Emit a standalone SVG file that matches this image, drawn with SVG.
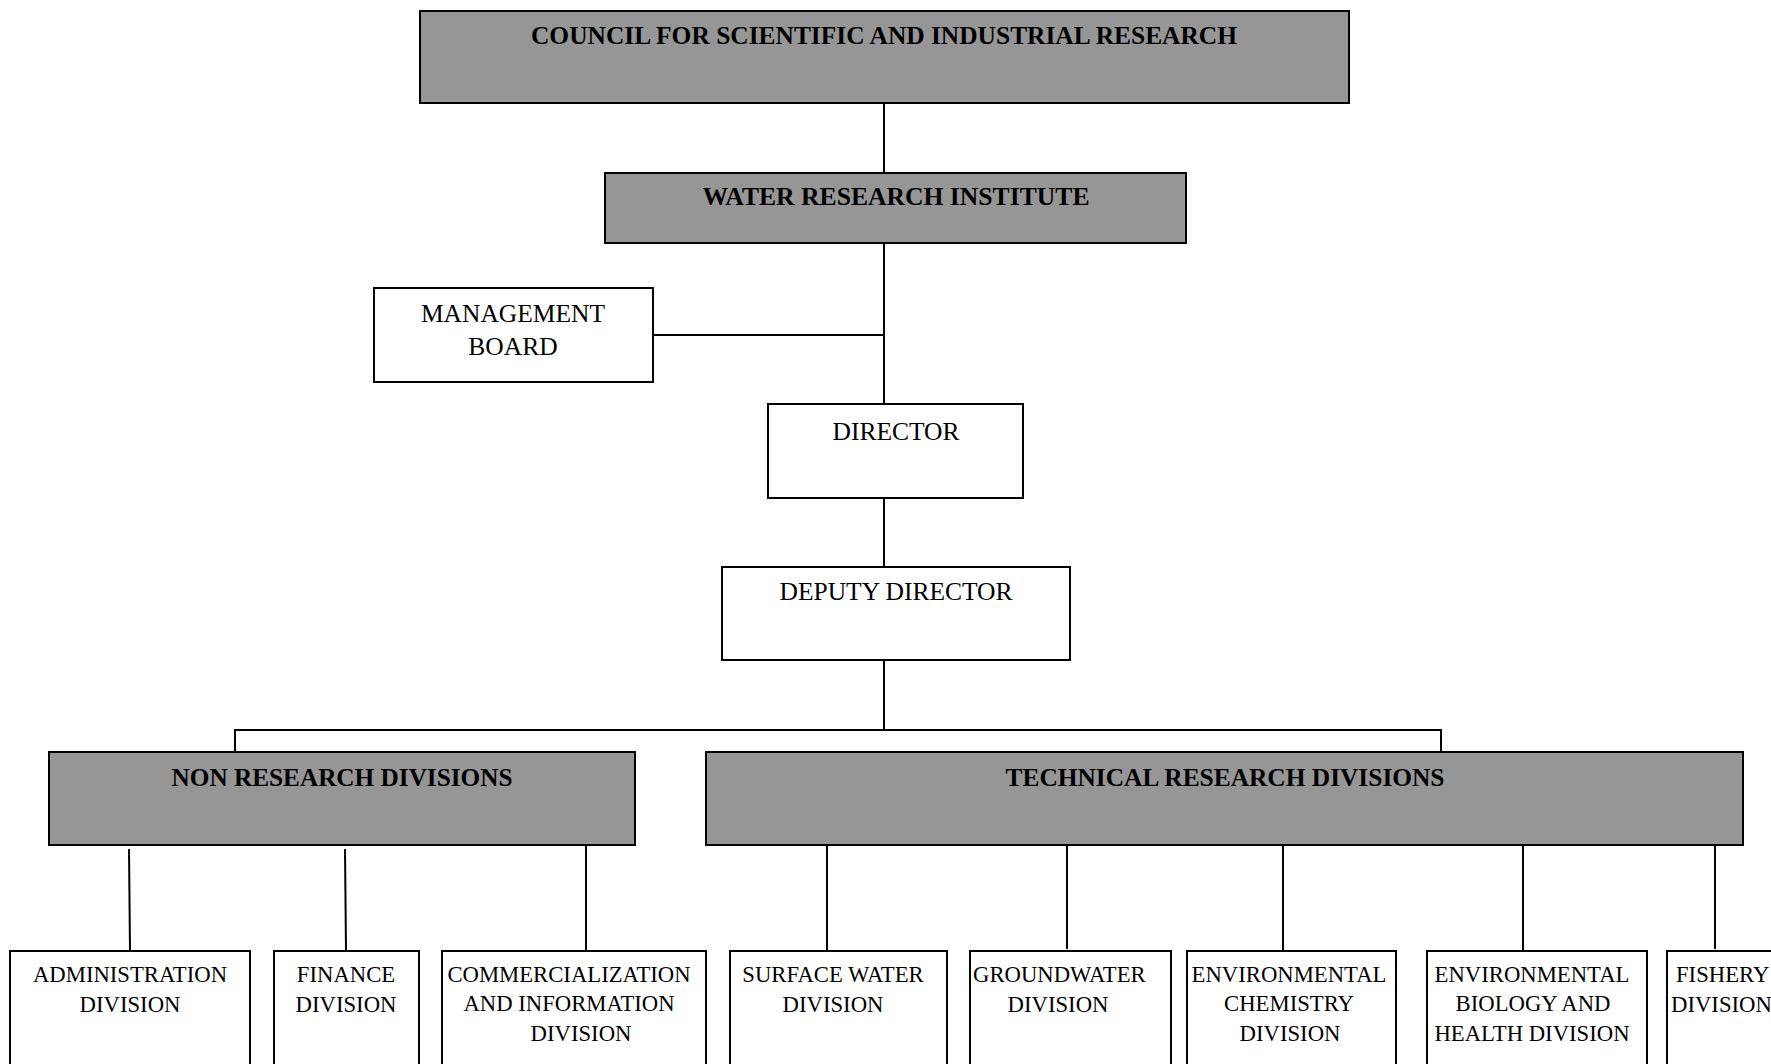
<svg xmlns="http://www.w3.org/2000/svg" width="1771" height="1064" viewBox="0 0 1771 1064">
<style>
.box{fill:#ffffff;stroke:#000;stroke-width:2}
.hd{fill:#969696;stroke:#000;stroke-width:2}
.t{font-family:"Liberation Serif","Times New Roman",serif;font-size:22.7px;fill:#000;text-anchor:middle}
.u{font-family:"Liberation Serif","Times New Roman",serif;font-size:25.5px;fill:#000;text-anchor:middle}
.b{font-family:"Liberation Serif","Times New Roman",serif;font-size:25px;font-weight:bold;fill:#000;text-anchor:middle}
.ln{stroke:#000;stroke-width:2;fill:none}
</style>
<rect width="1771" height="1064" fill="#fff"/>
<g id="connectors">
<line class="ln" x1="884" y1="104" x2="884" y2="173"/>
<line class="ln" x1="884" y1="243" x2="884" y2="404"/>
<line class="ln" x1="653" y1="335" x2="884" y2="335"/>
<line class="ln" x1="884" y1="498" x2="884" y2="567"/>
<line class="ln" x1="884" y1="660" x2="884" y2="730"/>
<polyline class="ln" points="235,752 235,730 1441,730 1441,752"/>
<line class="ln" x1="129" y1="849" x2="130" y2="951"/>
<line class="ln" x1="345" y1="849" x2="346" y2="951"/>
<line class="ln" x1="586" y1="845" x2="586" y2="951"/>
<line class="ln" x1="827" y1="845" x2="827" y2="951"/>
<line class="ln" x1="1067" y1="845" x2="1067" y2="949"/>
<line class="ln" x1="1283" y1="845" x2="1283" y2="951"/>
<line class="ln" x1="1523" y1="845" x2="1523" y2="951"/>
<line class="ln" x1="1715" y1="845" x2="1715" y2="949"/>
</g>
<g id="csir">
<rect class="hd" x="420" y="11" width="929" height="92"/>
<text class="b" x="884" y="44" textLength="706" lengthAdjust="spacingAndGlyphs">COUNCIL FOR SCIENTIFIC AND INDUSTRIAL RESEARCH</text>
</g>
<g id="wri">
<rect class="hd" x="605" y="173" width="581" height="70"/>
<text class="b" x="896" y="205" textLength="387" lengthAdjust="spacingAndGlyphs">WATER RESEARCH INSTITUTE</text>
</g>
<g id="board">
<rect class="box" x="374" y="288" width="279" height="94"/>
<text class="u" x="513" y="322">MANAGEMENT</text>
<text class="u" x="513" y="355">BOARD</text>
</g>
<g id="director">
<rect class="box" x="768" y="404" width="255" height="94"/>
<text class="u" x="896" y="440">DIRECTOR</text>
</g>
<g id="deputy">
<rect class="box" x="722" y="567" width="348" height="93"/>
<text class="u" x="896" y="600">DEPUTY DIRECTOR</text>
</g>
<g id="nonresearch">
<rect class="hd" x="49" y="752" width="586" height="93"/>
<text class="b" x="342" y="786" textLength="341" lengthAdjust="spacingAndGlyphs">NON RESEARCH DIVISIONS</text>
</g>
<g id="technical">
<rect class="hd" x="706" y="752" width="1037" height="93"/>
<text class="b" x="1225" y="786" textLength="439" lengthAdjust="spacingAndGlyphs">TECHNICAL RESEARCH DIVISIONS</text>
</g>
<g id="admin">
<rect class="box" x="10" y="951" width="240" height="200"/>
<text class="t" x="130" y="982">ADMINISTRATION</text>
<text class="t" x="130" y="1012">DIVISION</text>
</g>
<g id="finance">
<rect class="box" x="274" y="951" width="145" height="200"/>
<text class="t" x="346" y="982">FINANCE</text>
<text class="t" x="346" y="1012">DIVISION</text>
</g>
<g id="commercial">
<rect class="box" x="442" y="951" width="264" height="200"/>
<text class="t" x="569" y="982">COMMERCIALIZATION</text>
<text class="t" x="569" y="1011">AND INFORMATION</text>
<text class="t" x="581" y="1041">DIVISION</text>
</g>
<g id="surface">
<rect class="box" x="730" y="951" width="217" height="200"/>
<text class="t" x="833" y="982">SURFACE WATER</text>
<text class="t" x="833" y="1012">DIVISION</text>
</g>
<g id="groundwater">
<rect class="box" x="970" y="951" width="201" height="200"/>
<text class="t" x="973" y="982" style="text-anchor:start">GROUNDWATER</text>
<text class="t" x="1058" y="1012">DIVISION</text>
</g>
<g id="envchem">
<rect class="box" x="1187" y="951" width="209" height="200"/>
<text class="t" x="1289" y="982">ENVIRONMENTAL</text>
<text class="t" x="1289" y="1011">CHEMISTRY</text>
<text class="t" x="1290" y="1041">DIVISION</text>
</g>
<g id="envbio">
<rect class="box" x="1427" y="951" width="220" height="200"/>
<text class="t" x="1532" y="982">ENVIRONMENTAL</text>
<text class="t" x="1533" y="1011">BIOLOGY AND</text>
<text class="t" x="1532" y="1041">HEALTH DIVISION</text>
</g>
<g id="fishery">
<rect class="box" x="1667" y="951" width="200" height="200"/>
<text class="t" x="1676" y="982" style="text-anchor:start">FISHERY</text>
<text class="t" x="1671" y="1012" style="text-anchor:start">DIVISION</text>
</g>
</svg>
